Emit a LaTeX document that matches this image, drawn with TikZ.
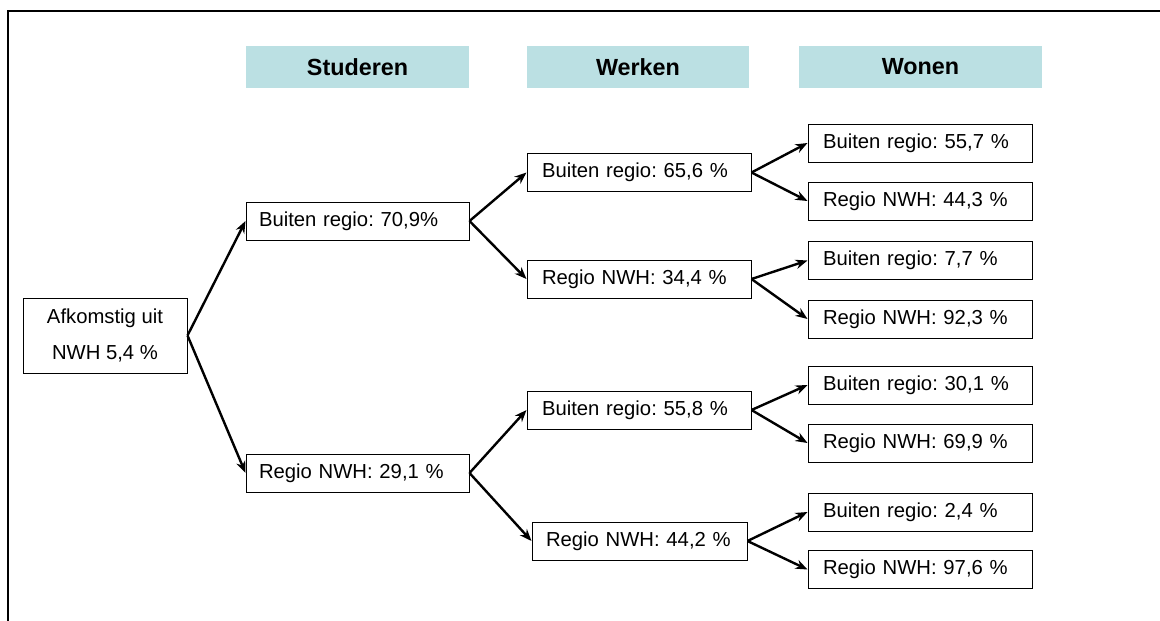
\documentclass[tikz,border=0pt]{standalone}
\usepackage{fontspec}
\setmainfont{Liberation Sans}
\usetikzlibrary{arrows.meta}
\definecolor{hdrblue}{RGB}{187,224,227}
\frenchspacing
\begin{document}
\begin{tikzpicture}[x=0.75pt,y=-0.75pt,
  hdr/.style={fill=hdrblue, minimum height=31.5pt, inner sep=0pt, font=\fontsize{17.5}{20}\selectfont\bfseries},
  box/.style={draw, line width=0.75pt, minimum height=28.5pt, inner ysep=0pt, align=left, font=\frenchspacing\fontsize{15.2}{18}\selectfont},
  lv1/.style={box, inner xsep=9.75pt, text width=147.75pt},
  lv2/.style={box, inner xsep=11.25pt, text width=145.5pt},
  lv3/.style={box, inner xsep=11.25pt, text width=145.5pt},
  arr/.style={line width=1.8pt, -{Stealth[length=9pt,width=7pt]}},
  frame/.style={line width=1.8pt}
]
\useasboundingbox (0,0) rectangle (1160,621);
% frame
\coordinate (fb) at (8,621);
\coordinate (fc) at (8,11);
\coordinate (fr) at (1160,11);
\draw[frame] (fb) -- (fc) -- (fr);
% headers
\node[hdr, minimum width=167.25pt] (h1) at (357.5,67) {Studeren};
\node[hdr, minimum width=166.5pt] (h2) at (638,67) {Werken};
\node[hdr, minimum width=182.25pt] (h3) at (920.5,67) {Wonen};
% root
\node[draw, line width=0.75pt, minimum width=123pt, minimum height=56.25pt, inner sep=0pt, align=center, font=\fontsize{15.2}{27}\selectfont] (afk) at (105,335.5) {Afkomstig uit\\NWH 5,4 \%};
% level 1
\node[lv1] (s1) at (357.5,221) {Buiten regio: 70,9\%};
\node[lv1] (s2) at (357.5,473) {Regio NWH: 29,1 \%};
% level 2
\node[lv2] (w1) at (639,172.5) {Buiten regio: 65,6 \%};
\node[lv2] (w2) at (639,279) {Regio NWH: 34,4 \%};
\node[lv2] (w3) at (639,410) {Buiten regio: 55,8 \%};
\node[box, inner xsep=10.5pt, text width=140.25pt] (w4) at (639.5,541) {Regio NWH: 44,2 \%};
% level 3
\node[lv3] (o1) at (920,143) {Buiten regio: 55,7 \%};
\node[lv3] (o2) at (920,201) {Regio NWH: 44,3 \%};
\node[lv3] (o3) at (920,260.5) {Buiten regio: 7,7 \%};
\node[lv3] (o4) at (920,319) {Regio NWH: 92,3 \%};
\node[lv3] (o5) at (920,385) {Buiten regio: 30,1 \%};
\node[lv3] (o6) at (920,443) {Regio NWH: 69,9 \%};
\node[lv3] (o7) at (920,512) {Buiten regio: 2,4 \%};
\node[lv3] (o8) at (920,569.5) {Regio NWH: 97,6 \%};
% connectors
\draw[arr] (afk.east) -- (s1.west);
\draw[arr] (afk.east) -- (s2.west);
\draw[arr] (s1.east) -- (w1.west);
\draw[arr] (s1.east) -- (w2.west);
\draw[arr] (s2.east) -- (w3.west);
\draw[arr] (s2.east) -- (w4.west);
\draw[arr] (w1.east) -- (o1.west);
\draw[arr] (w1.east) -- (o2.west);
\draw[arr] (w2.east) -- (o3.west);
\draw[arr] (w2.east) -- (o4.west);
\draw[arr] (w3.east) -- (o5.west);
\draw[arr] (w3.east) -- (o6.west);
\draw[arr] (w4.east) -- (o7.west);
\draw[arr] (w4.east) -- (o8.west);
\end{tikzpicture}
\end{document}
